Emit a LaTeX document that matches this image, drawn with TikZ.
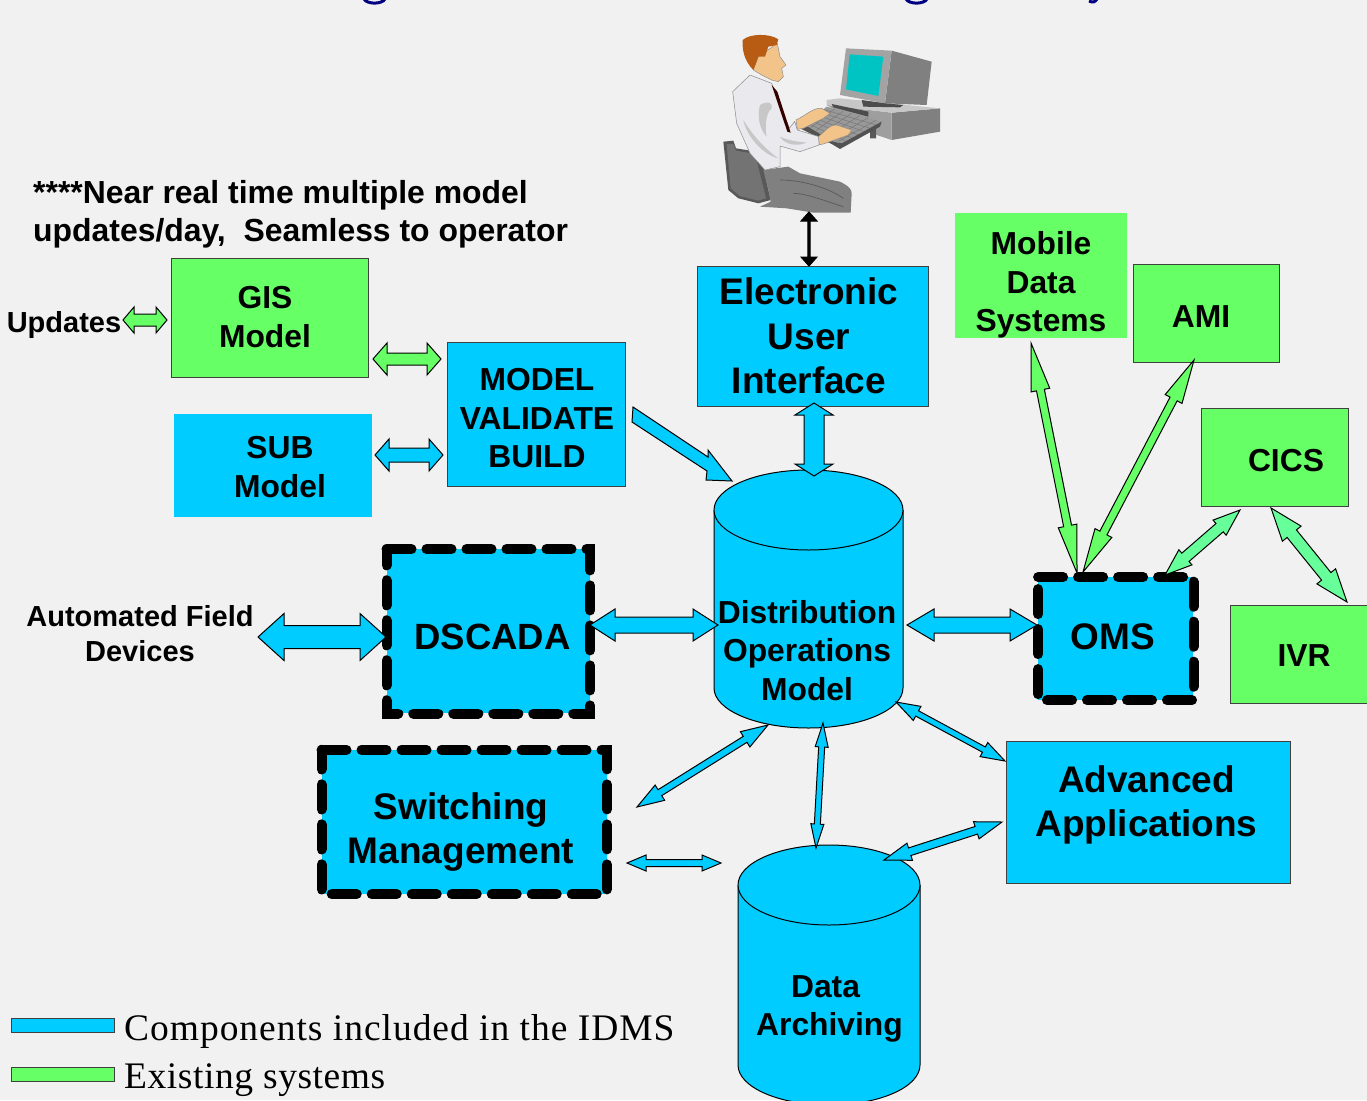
\documentclass[tikz,border=0pt]{standalone}
\usepackage{fontspec}
\setmainfont{Liberation Sans}
\newfontfamily\legendfontA[LetterSpace=2.6]{Liberation Serif}
\newfontfamily\legendfontB[LetterSpace=1.5]{Liberation Serif}
\usetikzlibrary{calc}
\definecolor{pagebg}{HTML}{F1F1F1}
\definecolor{idms}{HTML}{00CCFF}
\definecolor{existing}{HTML}{66FF66}
\definecolor{mint}{HTML}{66FF99}
\definecolor{titleblue}{HTML}{000080}
\definecolor{skin}{HTML}{F3C48A}
\definecolor{hair}{HTML}{B85C14}
\definecolor{screen}{HTML}{00C4C4}
\definecolor{shirt}{HTML}{E9E9EE}
\tikzset{
  idmsbox/.style={draw=black!75,line width=1pt,fill=idms,inner sep=0pt},
  greenbox/.style={draw=black!75,line width=1pt,fill=existing,inner sep=0pt},
  plainidms/.style={fill=idms,inner sep=0pt},
  plaingreen/.style={fill=existing,inner sep=0pt},
  dashedge/.style={draw=black,line width=10pt,line cap=round,line join=miter,dash pattern=on 25pt off 15pt},
  arrowline/.style={draw=black,line width=1pt,line join=miter},
  lbl/.style={font=\bfseries\fontsize{31.8}{38.5}\selectfont,align=center,inner sep=0pt,text=black},
  biglbl/.style={font=\bfseries\fontsize{37}{44.5}\selectfont,align=center,inner sep=0pt,text=black},
  smalllbl/.style={font=\bfseries\fontsize{29}{35}\selectfont,align=center,inner sep=0pt,text=black},
  noteLbl/.style={font=\bfseries\fontsize{31.9}{38}\selectfont,align=left,inner sep=0pt,text=black,anchor=north west},
  legendlblA/.style={font=\legendfontA\fontsize{37.5}{37.5}\selectfont,inner sep=0pt,anchor=west,text=black},
  legendlblB/.style={font=\legendfontB\fontsize{37.5}{37.5}\selectfont,inner sep=0pt,anchor=west,text=black},
  cyl/.style={draw=black,line width=1pt,fill=idms},
  pic edge/.style={draw=black!45,line width=.5pt,line join=round},
}
% #1 fill, #2 name a, #3 name b, #4 head length, #5 head half width, #6 shaft half width
\newcommand\twoway[6]{%
  \coordinate (p1) at ($(#2)!#4!(#3)$);
  \coordinate (p2) at ($(#3)!#4!(#2)$);
  \draw[arrowline,fill=#1] (#2)
    -- ($(p1)!#5!90:(#3)$) -- ($(p1)!#6!90:(#3)$)
    -- ($(p2)!#6!-90:(#2)$) -- ($(p2)!#5!-90:(#2)$)
    -- (#3)
    -- ($(p2)!#5!90:(#2)$) -- ($(p2)!#6!90:(#2)$)
    -- ($(p1)!#6!-90:(#3)$) -- ($(p1)!#5!-90:(#3)$) -- cycle;}
\newcommand\blk[6]{\node[#1,minimum width={(#5-#3)*1pt},minimum height={(#6-#4)*1pt}] (#2) at ({(#3+#5)/2},{(#4+#6)/2}) {};}
\newcommand\dashframe[1]{\draw[dashedge] (#1.north west) -- (#1.north east) -- (#1.south east) -- (#1.south west) -- cycle;}
\newcommand\cylinder[6]{% name, x1, x2, ytop centre, ybottom centre, ry
  \draw[cyl] (#2,#4) -- (#2,#5) arc[start angle=180,end angle=360,x radius={(#3-#2)/2*1pt},y radius=#6pt] -- (#3,#4);
  \draw[cyl] ({(#2+#3)/2},#4) ellipse[x radius={(#3-#2)/2*1pt},y radius=#6pt];
  \coordinate (#1) at ({(#2+#3)/2},#4);}
\begin{document}
\begin{tikzpicture}[x=1pt,y=-1pt]
\useasboundingbox (0,0) rectangle (1367,1100);
\begin{scope}
\clip (0,0) rectangle (1367,1100);
\fill[pagebg] (0,0) rectangle (1367,1100);

% title remnants
\draw[titleblue,line width=3pt] (364,-1) .. controls (367,4.5) and (382,4.5) .. (385,-1);
\draw[titleblue,line width=3pt] (906,-1) .. controls (909,4.5) and (924,4.5) .. (927,-1);
\draw[titleblue,line width=3pt] (1097,-1) .. controls (1095,2) and (1093,3) .. (1089,1);

% operator clip art
\begin{scope}[shift={(700,20)},x=1pt/3,y=-1pt/3]
  % desk
  \fill[black!50] (575,278) -- (720,265) -- (720,335) -- (575,360) -- cycle;
  \fill[black!38] (380,255) -- (575,278) -- (575,360) -- (530,345) -- cycle;
  \fill[black!22] (380,240) -- (420,235) -- (720,265) -- (575,278) -- (380,255) -- cycle;
  \fill[black!70] (395,252) -- (505,275) -- (505,290) -- (400,262) -- cycle;
  % monitor
  \fill[black!50] (575,92) -- (695,125) -- (680,255) -- (555,250) -- cycle;
  \fill[black!36] (438,85) -- (575,92) -- (555,250) -- (420,225) -- cycle;
  \fill[black!70] (485,240) -- (555,250) -- (610,255) -- (600,262) -- (490,260) -- cycle;
  \fill[screen] (449,103) -- (550,110) -- (535,228) -- (438,208) -- cycle;
  % keyboard
  \fill[black!65] (510,330) -- (528,325) -- (528,355) -- (510,355) -- cycle;
  \fill[black!40] (315,315) -- (380,260) -- (545,305) -- (425,370) -- (400,365) -- cycle;
  \foreach \k in {0.15,0.3,0.45,0.6,0.75,0.9}{
    \draw[black!55,line width=.4pt] ($(380,260)!\k!(315,315)$) -- ($(545,305)!\k!(425,370)$);
    \draw[black!55,line width=.4pt] ($(380,260)!\k!(545,305)$) -- ($(315,315)!\k!(425,370)$);}
  \fill[black!68] (300,325) -- (315,315) -- (400,365) -- (425,370) -- (545,305) -- (540,320) -- (420,387) -- (395,372) -- cycle;
  % chair
  \fill[black!65] (70,365) -- (100,362) -- (108,385) -- (170,395) -- (185,420) -- (212,540) -- (175,550) -- (115,535) -- (85,510) -- cycle;
  \fill[black!55] (80,372) -- (100,372) -- (108,392) -- (165,402) -- (198,535) -- (175,542) -- (120,528) -- (92,505) -- cycle;
  % legs
  \fill[black!50] (190,450) -- (265,440) -- (300,460) -- (420,485) .. controls (450,500) and (455,510) .. (455,520) -- (452,578) -- (340,578) -- (260,565) -- (180,560) -- (212,545) -- (205,510) -- cycle;
  \draw[black!65,line width=.7pt] (240,480) .. controls (300,480) and (380,500) .. (430,535);
  \draw[black!65,line width=.7pt] (280,520) .. controls (320,520) and (380,545) .. (430,560);
  % shirt
  \filldraw[fill=shirt,pic edge] (98,215) -- (150,165) -- (215,190) -- (268,325) -- (284,304) -- (292,330) -- (357,350) -- (357,375) -- (300,395) -- (240,378) -- (240,440) -- (195,450) -- (150,400) -- (110,310) -- cycle;
  \fill[black!22] (180,255) .. controls (205,240) and (220,250) .. (215,265) .. controls (195,280) and (195,330) .. (200,350) .. controls (180,330) and (170,290) .. (180,255) -- cycle;
  \fill[black!22] (130,300) .. controls (160,350) and (200,390) .. (235,415) .. controls (190,405) and (140,350) .. (130,300) -- cycle;
  \fill[black!22] (240,350) .. controls (260,360) and (290,365) .. (320,368) .. controls (290,380) and (255,375) .. (240,350) -- cycle;
  % tie
  \fill[black!80!red] (215,195) -- (232,215) -- (272,338) -- (262,335) -- (240,270) -- cycle;
  % hands
  \filldraw[fill=skin,pic edge] (288,300) .. controls (320,285) and (340,262) .. (365,265) -- (390,280) -- (370,295) -- (310,325) -- (292,328) -- cycle;
  \filldraw[fill=skin,pic edge] (355,350) .. controls (375,335) and (385,315) .. (410,315) -- (455,330) -- (445,345) -- (370,372) -- (358,374) -- cycle;
  % head
  \filldraw[fill=skin,pic edge] (232,70) -- (240,110) -- (258,135) -- (245,145) -- (250,170) -- (235,185) -- (215,180) -- (185,165) -- (160,150) -- (175,110) -- cycle;
  \fill[hair] (128,60) .. controls (150,40) and (210,40) .. (235,58) -- (230,75) -- (205,80) -- (195,110) -- (175,110) -- (160,150) .. controls (140,130) and (125,100) .. (128,60) -- cycle;
\end{scope}

% boxes
\blk{greenbox}{gis}{171}{258}{368.5}{377}
\blk{idmsbox}{model}{447}{342}{625.5}{486}
\blk{plainidms}{sub}{174}{414}{372}{517}
\blk{idmsbox}{eui}{697}{266}{928.5}{406}
\blk{plaingreen}{mobile}{955}{213}{1127}{338}
\blk{greenbox}{ami}{1133.5}{264}{1279.5}{362}
\blk{greenbox}{cics}{1201.5}{408}{1348}{506}
\blk{greenbox}{ivr}{1230.5}{605}{1380}{703}
\blk{idmsbox}{adv}{1006}{741}{1290}{883}
\blk{plainidms}{dscada}{386.7}{549.3}{590}{713.3}
\blk{plainidms}{oms}{1038.3}{577.3}{1193.3}{700}
\blk{plainidms}{switching}{321.7}{750}{606.7}{894}
\dashframe{dscada}
\dashframe{oms}
\dashframe{switching}

% cylinders
\cylinder{dom}{714}{903}{510}{688}{40}
\cylinder{arch}{738}{920}{885}{1065}{40}

% connector ends
\coordinate (upA) at (123,320); \coordinate (upB) at (167,320);
\coordinate (gmA) at (373,359); \coordinate (gmB) at (441,359);
\coordinate (smA) at (375,455); \coordinate (smB) at (443,455);
\coordinate (mdTa) at (633,407); \coordinate (mdTb) at (632,422); \coordinate (mdB) at (732,481);
\coordinate (edA) at (814,403); \coordinate (edB) at (814,476);
\coordinate (peA) at (809,212); \coordinate (peB) at (809,266);
\coordinate (ddA) at (590,625); \coordinate (ddB) at (718,625);
\coordinate (afA) at (258,637); \coordinate (afB) at (386,637);
\coordinate (doA) at (907,625); \coordinate (doB) at (1037,625);
\coordinate (moA) at (1031,343); \coordinate (moB) at (1077,573);
\coordinate (amA) at (1194,360); \coordinate (amB) at (1083,572);
\coordinate (coA) at (1240,510); \coordinate (coB) at (1165,575);
\coordinate (ciA) at (1271,508); \coordinate (ciB) at (1347,602);
\coordinate (dsA) at (768,725); \coordinate (dsB) at (637,807);
\coordinate (daA) at (823,723); \coordinate (daB) at (816,848);
\coordinate (dvA) at (896,702); \coordinate (dvB) at (1005,761);
\coordinate (vaA) at (1002,822); \coordinate (vaB) at (884,860);
\coordinate (swA) at (627,863); \coordinate (swB) at (721,863);

% connectors
\twoway{existing}{upA}{upB}{11pt}{13pt}{6pt}
\twoway{existing}{gmA}{gmB}{14pt}{16pt}{6pt}
\twoway{idms}{smA}{smB}{14pt}{16pt}{7pt}
\draw[arrowline,fill=idms] (mdTa) -- (708,457) -- (708,450) -- (mdB) -- (706,480) -- (707,471) -- (mdTb) -- cycle;
\twoway{idms}{edA}{edB}{12pt}{19pt}{10pt}
\twoway{black}{peA}{peB}{9pt}{8pt}{1.2pt}
\twoway{idms}{ddA}{ddB}{25pt}{16pt}{8pt}
\twoway{idms}{afA}{afB}{26pt}{23.5pt}{11.5pt}
\twoway{idms}{doA}{doB}{27pt}{16pt}{8pt}
\twoway{existing}{moA}{moB}{48pt}{9.5pt}{4pt}
\twoway{existing}{amA}{amB}{44pt}{9.5pt}{4pt}
\twoway{mint}{coA}{coB}{27pt}{10pt}{5.5pt}
\twoway{mint}{ciA}{ciB}{33pt}{12pt}{6pt}
\twoway{idms}{dsA}{dsB}{27pt}{9pt}{3.5pt}
\twoway{idms}{daA}{daB}{24pt}{6.5pt}{3pt}
\twoway{idms}{dvA}{dvB}{24pt}{8pt}{3pt}
\twoway{idms}{vaA}{vaB}{27pt}{9pt}{4pt}
\twoway{idms}{swA}{swB}{19pt}{8pt}{3.5pt}

% labels
\node[lbl] (gisT) at (265,317) {GIS\\Model};
\node[lbl] (modelT) at (537,418.5) {MODEL\\VALIDATE\\BUILD};
\node[lbl] (subT) at (280,467) {SUB\\Model};
\node[biglbl] (euiT) at (809,336) {Electronic\\User\\Interface};
\node[lbl] (mobileT) at (1041,285) {Mobile\\Data\\Systems};
\node[lbl] (amiT) at (1201,316.5) {AMI};
\node[lbl] (cicsT) at (1286,460.5) {CICS};
\node[lbl] (ivrT) at (1304,656) {IVR};
\node[biglbl,font=\bfseries\fontsize{36.5}{44}\selectfont] (dscadaT) at (492.5,637) {DSCADA};
\node[biglbl] (omsT) at (1113,637) {OMS};
\node[biglbl] (switchT) at (461,832) {Switching\\Management};
\node[biglbl] (advT) at (1146.5,805) {Advanced\\Applications};
\node[lbl] (domT) at (807,650.5) {Distribution\\Operations\\Model};
\node[lbl] (archT) at (829.5,1009) {Data\hspace*{8pt}\\Archiving};
\node[smalllbl] (updT) at (64,325) {Updates};
\node[smalllbl] (afdT) at (140,634) {Automated Field\\Devices};
\node[noteLbl] (noteT) at (33,180) {****Near real time multiple model\\updates/day,~~Seamless to operator};

% legend
\blk{idmsbox}{legA}{11}{1018}{114}{1032}
\blk{greenbox}{legB}{11}{1067}{114}{1081}
\node[legendlblA] (legAT) at (124,1031) {Components included in the IDMS};
\node[legendlblB] (legBT) at (124,1080) {Existing systems};
\end{scope}
\end{tikzpicture}
\end{document}
